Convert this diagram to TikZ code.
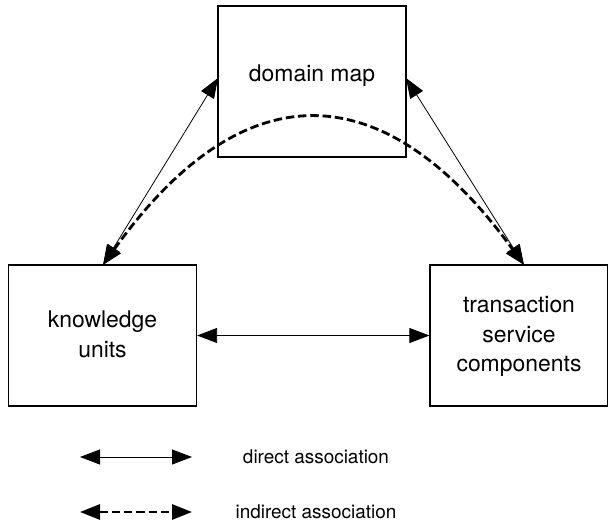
\documentclass[tikz,border=0pt]{standalone}
\usepackage{fontspec}
\setmainfont{TeX Gyre Heros}
\usetikzlibrary{arrows.meta}
\tikzset{
  box/.style={draw, line width=1.2bp, minimum width=188bp, minimum height=141bp, inner sep=0pt},
  lbl/.style={font=\fontsize{23}{30}\selectfont, align=center, inner sep=0pt},
  key/.style={font=\fontsize{19}{23}\selectfont, inner sep=0pt},
  >={Triangle[length=20bp, width=15bp]},
  direct/.style={line width=0.8bp, <->},
  indirect/.style={line width=2.8bp, dash pattern=on 8.5bp off 3.8bp, <->},
}
\begin{document}
\begin{tikzpicture}[x=1bp, y=-1bp]
  \useasboundingbox (0,0) rectangle (608,528);
  % the three components
  \node[box, minimum height=151bp] (dm) at (312,81.5) {};
  \node[lbl] at (312,76) {domain map};
  \node[box] (ku) at (102.5,335.5) {};
  \node[lbl] at (102.5,334) {knowledge\\units};
  \node[box, minimum width=178bp] (tsc) at (519,335.5) {};
  \node[lbl] at (519,336.5) {transaction\\service\\components};
  % anchor points on the box outlines
  \coordinate (kuTop) at (103,265);
  \coordinate (tscTop) at (524,265);
  \coordinate (dmL) at (218,78);
  \coordinate (dmR) at (406,78);
  % direct associations
  \draw[direct] (kuTop) -- (dmL);
  \draw[direct] (tscTop) -- (dmR);
  \draw[direct] (ku.east) -- (tsc.west);
  % indirect association
  \draw[indirect] (kuTop) .. controls (242,71) and (383,71) .. (tscTop);
  % legend
  \coordinate (l1a) at (80,457);
  \coordinate (l1b) at (192,457);
  \coordinate (l2a) at (80,512);
  \coordinate (l2b) at (192,512);
  \draw[direct] (l1a) -- (l1b);
  \draw[indirect] (l2a) -- (l2b);
  \node[key] (t1) at (316,457) {direct association};
  \node[key] (t2) at (316,512) {indirect association};
\end{tikzpicture}
\end{document}
